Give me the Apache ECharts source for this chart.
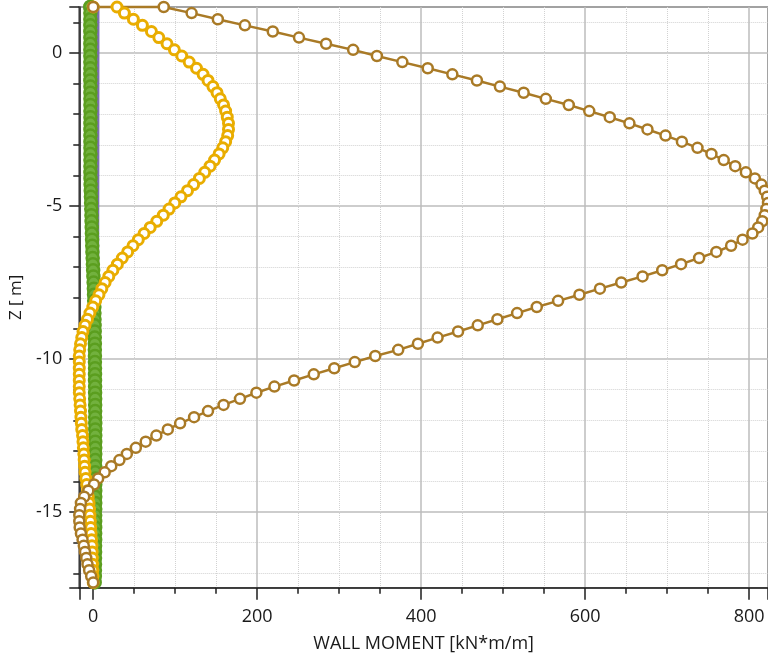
<!DOCTYPE html>
<html>
<head>
<meta charset="utf-8">
<script src="https://cdn.jsdelivr.net/npm/echarts@6.0.0/dist/echarts.min.js"></script>
<style>
  html, body { margin: 0; padding: 0; background: #fff; }
  #chart { width: 768px; height: 660px; }
</style>
</head>
<body>
<div id="chart"></div>
<script>
  // depth levels [m] shared by the marker series (top of wall = 1.5)
  var zLevels = [
    1.5, 1.5, 1.3, 1.1, 0.9, 0.7, 0.5, 0.3, 0.1, -0.1,
    -0.3, -0.5, -0.7, -0.9, -1.1, -1.3, -1.5, -1.7, -1.9, -2.1,
    -2.3, -2.5, -2.7, -2.9, -3.1, -3.3, -3.5, -3.7, -3.9, -4.1,
    -4.3, -4.5, -4.7, -4.9, -5.1, -5.3, -5.5, -5.7, -5.9, -6.1,
    -6.3, -6.5, -6.7, -6.9, -7.1, -7.3, -7.5, -7.7, -7.9, -8.1,
    -8.3, -8.5, -8.7, -8.9, -9.1, -9.3, -9.5, -9.7, -9.9, -10.1,
    -10.3, -10.5, -10.7, -10.9, -11.1, -11.3, -11.5, -11.7, -11.9, -12.1,
    -12.3, -12.5, -12.7, -12.9, -13.1, -13.3, -13.5, -13.7, -13.9, -14.1,
    -14.3, -14.5, -14.7, -14.9, -15.1, -15.3, -15.5, -15.7, -15.9, -16.1,
    -16.3, -16.5, -16.7, -16.9, -17.1, -17.3
  ];

  // wall moment [kN*m/m], one value per depth level
  var momentBrown = [
    0, 86, 120, 152, 185, 219, 251, 284, 317, 346,
    377, 408, 438, 468, 496, 525, 552, 580, 605, 630,
    654, 676, 698, 718, 737, 754, 769, 783, 796, 807,
    815, 819, 822, 823, 821, 819, 816, 811, 804, 792,
    778, 760, 739, 717, 694, 670, 644, 618, 593, 567,
    541, 517, 493, 469, 445, 420, 396, 372, 344, 319,
    294, 269, 245, 221, 199, 179, 159, 140, 123, 106,
    91, 77, 64, 52, 41, 32, 22, 14, 6, 1,
    -6, -11, -15, -16, -17, -17, -16.5, -15, -13, -11.5,
    -10, -8.5, -7, -5, -2.5, 0
  ];

  var momentYellow = [
    0, 29, 38, 49, 60, 71, 80, 90, 99, 108,
    117, 126, 134, 140, 146, 151, 155, 159, 161.5, 163.5,
    165, 165, 164, 161.5, 158, 153.5, 148, 142.5, 136, 129.5,
    122.5, 115, 107, 99.5, 92.5, 85.5, 77.5, 69.5, 62, 55,
    48.5, 42, 35.5, 29.5, 24, 19, 14.5, 10.5, 7, 3,
    -0.5, -4, -7, -10, -12.5, -14, -15.5, -16.5, -17, -17,
    -17, -17, -17, -17, -17, -16.5, -16, -15.5, -15, -14.5,
    -14, -13, -12.5, -12, -11.5, -11, -10.5, -10, -9, -8,
    -7, -6, -5, -4.5, -4, -3.5, -3, -2.5, -2, -1.5,
    -1.2, -1, -0.8, -0.5, -0.3, 0
  ];

  var momentGreen = [
    -3.5, -3.5, -3.5, -3.5, -3.5, -3.5, -3.5, -3.5, -3.5, -3.5,
    -3.5, -3.5, -3.5, -3.5, -3.4, -3.4, -3.4, -3.4, -3.4, -3.4,
    -3.4, -3.4, -3.4, -3.4, -3.4, -3.4, -3.4, -3.4, -3.4, -3.3,
    -3.2, -3.0, -2.8, -2.6, -2.4, -2.2, -2.0, -1.8, -1.6, -1.4,
    -1.2, -1.0, -0.7, -0.4, -0.1, 0.2, 0.5, 0.8, 1.0, 1.2,
    1.4, 1.5, 1.6, 1.7, 1.8, 1.9, 2.0, 2.0, 2.1, 2.1,
    2.2, 2.2, 2.2, 2.3, 2.3, 2.4, 2.4, 2.4, 2.4, 2.5,
    2.5, 2.5, 2.5, 2.5, 2.5, 2.5, 2.5, 2.5, 2.5, 2.5,
    2.5, 2.5, 2.5, 2.5, 2.4, 2.4, 2.4, 2.4, 2.4, 2.3,
    2.3, 2.2, 2.2, 2.1, 2.0, 1.8
  ];

  var zPurple = [1.5, -3, -7, -11, -14, -17.3];
  var momentPurple = [5.8, 5.7, 5.5, 5, 4.5, 4];

  function pairs(xs, zs) {
    return zs.map(function (z, i) { return [xs[i], z]; });
  }

  var axisColor = '#1e1e1e';
  var textColor = '#1a1a1a';
  var font = 'Open Sans';

  var chart = echarts.init(document.getElementById('chart'));
  chart.setOption({
    animation: false,
    grid: {
      left: 77, top: 7, width: 692, height: 580.7,
      show: true, borderColor: axisColor, borderWidth: 1.5
    },
    xAxis: {
      type: 'value',
      min: -17,
      max: 823,
      splitNumber: 5,
      name: 'WALL MOMENT [kN*m/m]',
      nameLocation: 'middle',
      nameGap: 47,
      nameTextStyle: { color: textColor, fontFamily: font, fontSize: 18 },
      axisLine: { onZero: false, lineStyle: { color: axisColor, width: 1.5 } },
      axisTick: { length: 12, lineStyle: { color: axisColor, width: 1.5 } },
      minorTick: { show: true, splitNumber: 4, length: 6, lineStyle: { color: axisColor, width: 1.5 } },
      axisLabel: { margin: 20, showMinLabel: false, showMaxLabel: false, color: textColor, fontFamily: font, fontSize: 18 },
      splitLine: { lineStyle: { color: '#bcbcbc', width: 1.5 } },
      minorSplitLine: { show: true, lineStyle: { color: '#d2d2d2', type: 'dotted', width: 1 } }
    },
    yAxis: {
      type: 'value',
      min: -17.47,
      max: 1.5,
      splitNumber: 4,
      name: 'Z [ m]',
      nameLocation: 'middle',
      nameGap: 50,
      nameTextStyle: { color: textColor, fontFamily: font, fontSize: 17 },
      axisLine: { onZero: false, lineStyle: { color: axisColor, width: 1.5 } },
      axisTick: { length: 10, lineStyle: { color: axisColor, width: 1.5 } },
      minorTick: { show: true, splitNumber: 5, length: 6, lineStyle: { color: axisColor, width: 1.5 } },
      axisLabel: { margin: 17, showMinLabel: false, showMaxLabel: false, color: textColor, fontFamily: font, fontSize: 18 },
      splitLine: { lineStyle: { color: '#bcbcbc', width: 1.5 } },
      minorSplitLine: { show: true, lineStyle: { color: '#d2d2d2', type: 'dotted', width: 1 } }
    },
    series: [
      {
        type: 'line',
        clip: false,
        data: pairs(momentGreen, zLevels),
        symbol: 'circle',
        symbolSize: 12,
        itemStyle: { color: '#72b13e', borderColor: '#5b9e1f', borderWidth: 2.5 },
        lineStyle: { color: '#5b9e1f', width: 2 }
      },
      {
        type: 'line',
        clip: false,
        data: pairs(momentPurple, zPurple),
        symbol: 'none',
        lineStyle: { color: '#7d6bb5', width: 3 }
      },
      {
        type: 'line',
        clip: false,
        data: pairs(momentYellow, zLevels),
        symbol: 'circle',
        symbolSize: 10,
        itemStyle: { color: '#fff', borderColor: '#e9ad00', borderWidth: 3 },
        lineStyle: { color: '#e9ad00', width: 2 }
      },
      {
        type: 'line',
        clip: false,
        data: pairs(momentBrown, zLevels),
        symbol: 'circle',
        symbolSize: 10,
        itemStyle: { color: '#fff', borderColor: '#a97a26', borderWidth: 2.5 },
        lineStyle: { color: '#a97a26', width: 2.5 }
      }
    ]
  });
</script>
</body>
</html>
